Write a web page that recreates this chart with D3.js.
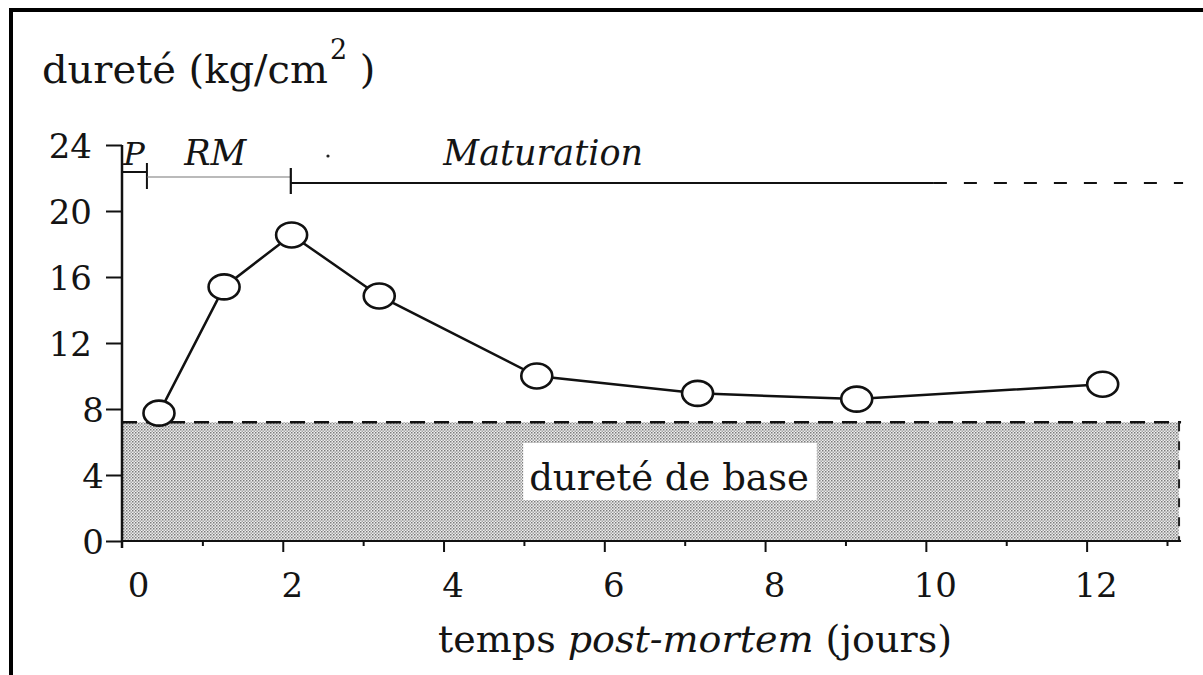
<!DOCTYPE html>
<html><head><meta charset="utf-8">
<script src="https://cdn.jsdelivr.net/npm/d3@7"></script>
<style>
html,body{margin:0;padding:0;background:#fff;}
svg{display:block;}
text{font-family:"DejaVu Serif","Liberation Serif",serif;fill:#141414;}
</style></head>
<body>
<svg id="chart" width="1203" height="675"></svg>
<script>
// ---- data ----
const days = [0.46, 1.27, 2.11, 3.2, 5.16, 7.16, 9.14, 12.2];
const hardness = [7.75, 15.4, 18.55, 14.85, 10.0, 8.95, 8.6, 9.5];
const yTickValues = [0, 4, 8, 12, 16, 20, 24];
const xTickValues = [0, 1, 2, 3, 4, 5, 6, 7, 8, 9, 10, 11, 12, 13];
const xTickLabels = [0, 2, 4, 6, 8, 10, 12];
const baseHardness = 7.2;
const baseEndDay = 13.15;
const phaseNames = ["P", "RM", "Maturation"];
const phaseStart = [0, 0.31, 2.1];
const phaseEnd = [0.31, 2.1, 10.1];
const maturationDashedEnd = 13.2;
const phaseLabelDay = [0.15, 1.16, 5.24];

// ---- layout ----
const svg = d3.select("#chart");
const x = d3.scaleLinear().domain([0, 13]).range([122, 1167]);
const y = d3.scaleLinear().domain([0, 24]).range([541, 145]);

// frame
svg.append("line").attr("x1", 10).attr("x2", 1203).attr("y1", 10).attr("y2", 10)
  .attr("stroke", "#000").attr("stroke-width", 4);
svg.append("line").attr("x1", 11).attr("x2", 11).attr("y1", 8).attr("y2", 675)
  .attr("stroke", "#000").attr("stroke-width", 4);

// halftone pattern
const defs = svg.append("defs");
const pat = defs.append("pattern").attr("id", "halftone").attr("patternUnits", "userSpaceOnUse")
  .attr("width", 3).attr("height", 3);
pat.append("rect").attr("width", 3).attr("height", 3).attr("fill", "#eeeeee");
pat.append("rect").attr("x", 0).attr("y", 0).attr("width", 1.5).attr("height", 1.5).attr("fill", "#7a7a7a");
pat.append("rect").attr("x", 1.5).attr("y", 1.5).attr("width", 1.5).attr("height", 1.5).attr("fill", "#a4a4a4");

// base hardness area
svg.append("rect")
  .attr("x", x(0)).attr("y", y(baseHardness))
  .attr("width", x(baseEndDay) - x(0)).attr("height", y(0) - y(baseHardness))
  .attr("fill", "url(#halftone)");
svg.append("line").attr("x1", x(0)).attr("x2", x(baseEndDay) + 2)
  .attr("y1", y(baseHardness)).attr("y2", y(baseHardness))
  .attr("stroke", "#111").attr("stroke-width", 2.5).attr("stroke-dasharray", "15,9");
svg.append("line").attr("x1", x(baseEndDay)).attr("x2", x(baseEndDay))
  .attr("y1", y(baseHardness)).attr("y2", y(0))
  .attr("stroke", "#222").attr("stroke-width", 2).attr("stroke-dasharray", "9,10");

// label box
const boxG = svg.append("g");
const baseLabel = boxG.append("text")
  .attr("x", 669).attr("y", 490)
  .attr("text-anchor", "middle").attr("font-size", 37)
  .text("dureté de base");
const bb = baseLabel.node().getBBox();
boxG.insert("rect", "text").attr("x", bb.x - 6).attr("y", 443)
  .attr("width", bb.width + 14).attr("height", 57).attr("fill", "#fff");

// x axis
const xAxis = d3.axisBottom(x).tickValues(xTickValues)
  .tickFormat(d => xTickLabels.includes(d) ? d : "").tickSizeOuter(0);
const gx = svg.append("g").attr("transform", `translate(0,${y(0)})`).call(xAxis);
gx.select(".domain").attr("d", `M${x(0)},0H${x(baseEndDay) + 2}`).attr("stroke", "#111").attr("stroke-width", 2);
gx.selectAll(".tick line").attr("y2", d => d % 2 === 0 ? 11 : 5).attr("stroke", "#111").attr("stroke-width", 2);
gx.selectAll(".tick text").attr("y", 56).attr("dy", 0).attr("x", d => d === 0 ? 16 : 9)
  .attr("font-size", 34).attr("font-family", "DejaVu Serif").attr("fill", "#141414");
gx.selectAll(".tick").filter(d => d === 0).select("line").remove();

// y axis
const yAxis = d3.axisLeft(y).tickValues(yTickValues).tickSize(16).tickSizeOuter(0).tickPadding(8);
const gy = svg.append("g").attr("transform", `translate(${x(0)},0)`).call(yAxis);
gy.select(".domain").attr("d", `M0,${y(24)}V${y(0) + 7}`).attr("stroke", "#111").attr("stroke-width", 2.5);
gy.selectAll(".tick line").attr("stroke", "#111").attr("stroke-width", 2);
gy.selectAll(".tick text").attr("dy", "0.38em")
  .attr("x", d => d >= 10 ? -30 : -18)
  .attr("font-size", 34).attr("font-family", "DejaVu Serif").attr("fill", "#141414");

// phase annotations
const topY = y(24);
// P bracket
svg.append("line").attr("x1", x(phaseStart[0])).attr("x2", x(phaseEnd[0]))
  .attr("y1", topY + 27).attr("y2", topY + 27).attr("stroke", "#111").attr("stroke-width", 2);
svg.append("line").attr("x1", x(phaseEnd[0])).attr("x2", x(phaseEnd[0]))
  .attr("y1", topY + 18).attr("y2", topY + 44).attr("stroke", "#111").attr("stroke-width", 2);
// RM
svg.append("line").attr("x1", x(phaseStart[1])).attr("x2", x(phaseEnd[1]))
  .attr("y1", topY + 32).attr("y2", topY + 32).attr("stroke", "#777").attr("stroke-width", 1.2);
svg.append("line").attr("x1", x(phaseEnd[1])).attr("x2", x(phaseEnd[1]))
  .attr("y1", topY + 23).attr("y2", topY + 49).attr("stroke", "#111").attr("stroke-width", 2.2);
// Maturation
svg.append("line").attr("x1", x(phaseStart[2])).attr("x2", x(phaseEnd[2]))
  .attr("y1", topY + 38).attr("y2", topY + 38).attr("stroke", "#111").attr("stroke-width", 2);
svg.append("line").attr("x1", x(phaseEnd[2])).attr("x2", x(maturationDashedEnd))
  .attr("y1", topY + 38).attr("y2", topY + 38).attr("stroke", "#111").attr("stroke-width", 2.2)
  .attr("stroke-dasharray", "13,17");
svg.selectAll("text.phase").data(phaseNames).join("text").attr("class", "phase")
  .attr("x", (d, i) => x(phaseLabelDay[i])).attr("y", topY + 20)
  .attr("text-anchor", "middle").attr("font-style", "italic")
  .attr("font-size", (d, i) => i === 0 ? 32 : 35)
  .text(d => d);
svg.append("circle").attr("cx", 328).attr("cy", 156).attr("r", 1.6).attr("fill", "#222");

// data line + markers
const pts = days.map((d, i) => [d, hardness[i]]);
svg.append("path").datum(pts)
  .attr("d", d3.line().x(d => x(d[0])).y(d => y(d[1])))
  .attr("fill", "none").attr("stroke", "#111").attr("stroke-width", 2.5);
svg.selectAll("ellipse.pt").data(pts).join("ellipse").attr("class", "pt")
  .attr("cx", d => x(d[0])).attr("cy", d => y(d[1]))
  .attr("rx", 15.5).attr("ry", 12.5)
  .attr("fill", "#fff").attr("stroke", "#111").attr("stroke-width", 2.6);

// titles
const yTitle = svg.append("text").attr("x", 42).attr("y", 83).attr("font-size", 40);
yTitle.append("tspan").text("dureté (kg/cm");
yTitle.append("tspan").attr("font-size", 27).attr("dy", -24).attr("dx", 2).text("2");
yTitle.append("tspan").attr("dy", 24).text(" )");

const xTitle = svg.append("text").attr("x", 695).attr("y", 652)
  .attr("text-anchor", "middle").attr("font-size", 38);
xTitle.append("tspan").text("temps ");
xTitle.append("tspan").attr("font-style", "italic").text("post-mortem");
xTitle.append("tspan").text(" (jours)");
</script>
</body></html>
